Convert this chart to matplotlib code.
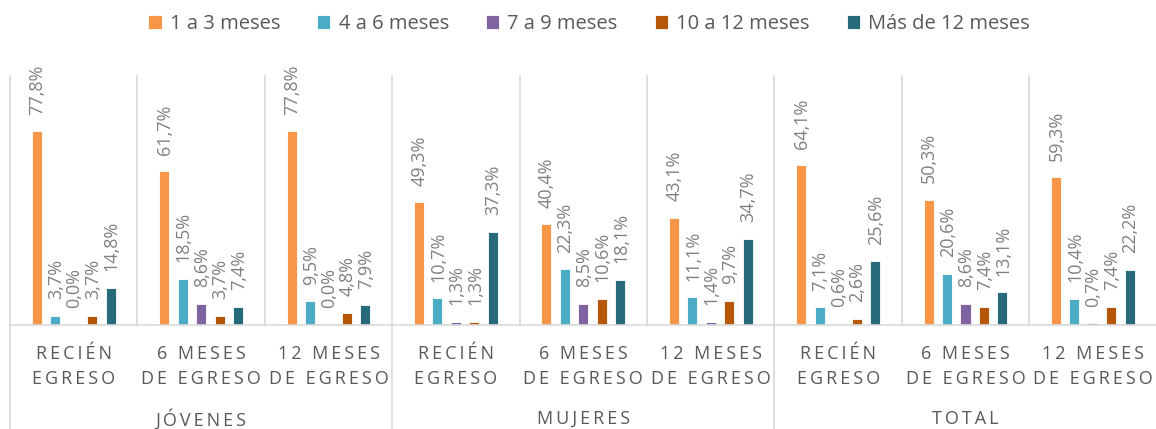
import matplotlib.pyplot as plt
import numpy as np

# datos (% por grupo)
grupos = ['JÓVENES', 'MUJERES', 'TOTAL']
momentos = [('RECIÉN', 'EGRESO'), ('6 MESES', 'DE EGRESO'), ('12 MESES', 'DE EGRESO')]
series = ['1 a 3 meses', '4 a 6 meses', '7 a 9 meses', '10 a 12 meses', 'Más de 12 meses']
colores = ['#F79646', '#4BACC6', '#8064A2', '#B65708', '#266A7B']

v_1a3 = [77.8, 61.7, 77.8, 49.3, 40.4, 43.1, 64.1, 50.3, 59.3]
v_4a6 = [3.7, 18.5, 9.5, 10.7, 22.3, 11.1, 7.1, 20.6, 10.4]
v_7a9 = [0.0, 8.6, 0.0, 1.3, 8.5, 1.4, 0.6, 8.6, 0.7]
v_10a12 = [3.7, 3.7, 4.8, 1.3, 10.6, 9.7, 2.6, 7.4, 7.4]
v_mas12 = [14.8, 7.4, 7.9, 37.3, 18.1, 34.7, 25.6, 13.1, 22.2]
valores = [v_1a3, v_4a6, v_7a9, v_10a12, v_mas12]

fuente = ['Open Sans', 'DejaVu Sans']
gris_txt = '#595959'
gris_lin = '#D9D9D9'

def espaciado(txt):
    # imita el espaciado de caracteres de Excel (espacio fino entre letras)
    fino = '\u2009'
    return (fino + ' ' + fino).join(fino.join(p) for p in txt.split(' '))

W, H = 1156, 429
fig = plt.figure(figsize=(W / 100, H / 100), dpi=100)
y_base, y_top, x_izq = 325, 76, 10
ax = fig.add_axes([x_izq / W, (H - y_base) / H, 9 * 127.4 / W, (y_base - y_top) / H])

n = len(v_1a3)
x = np.arange(n) + 0.5
paso, ancho = 0.145, 0.079
for i, (nombre, vals, c) in enumerate(zip(series, valores, colores)):
    xs = x + (i - 2) * paso
    ax.bar(xs, vals, width=ancho, color=c, edgecolor='white', linewidth=0.6, label=nombre)
    for xi, v in zip(xs, vals):
        ax.annotate(f'{v:.1f}%'.replace('.', ','), (xi, v), xytext=(0.5, 12),
                    textcoords='offset points', rotation=90, ha='center', va='bottom',
                    fontsize=13, color='#808080', family=fuente)

ax.set_xlim(0, n)
ax.set_ylim(0, 100)
ax.set_xticks([])
ax.set_yticks([])
for s in ['top', 'right', 'left']:
    ax.spines[s].set_visible(False)
ax.spines['bottom'].set_color(gris_lin)
ax.spines['bottom'].set_linewidth(1.2)

# separadores verticales
trans = ax.get_xaxis_transform()
y_fondo = -(H - y_base) / (y_base - y_top)
for k in range(n + 1):
    y0 = y_fondo if k % 3 == 0 else 0
    ax.plot([k, k], [y0, 1], color=gris_lin, lw=1.2, transform=trans, clip_on=False)

# etiquetas de categorías
h_ax = y_base - y_top
for k in range(n):
    l1, l2 = momentos[k % 3]
    ax.text(k + 0.5, -(354 - y_base) / h_ax, espaciado(l1), transform=trans, ha='center',
            va='center', fontsize=13, color=gris_txt, family=fuente)
    ax.text(k + 0.5, -(379 - y_base) / h_ax, espaciado(l2), transform=trans, ha='center',
            va='center', fontsize=13, color=gris_txt, family=fuente)
for g, nombre in enumerate(grupos):
    ax.text(3 * g + 1.5, -(419 - y_base) / h_ax, espaciado(nombre), transform=trans, ha='center',
            va='center', fontsize=13, color=gris_txt, family=fuente)

fig.legend(loc='center', bbox_to_anchor=(589 / W, 1 - 24 / H), ncol=5, frameon=False,
           prop={'family': fuente, 'size': 14.5}, labelcolor=gris_txt,
           handlelength=0.65, handleheight=0.65, handletextpad=0.4, columnspacing=1.85)

fig.savefig('out.png', dpi=100)
